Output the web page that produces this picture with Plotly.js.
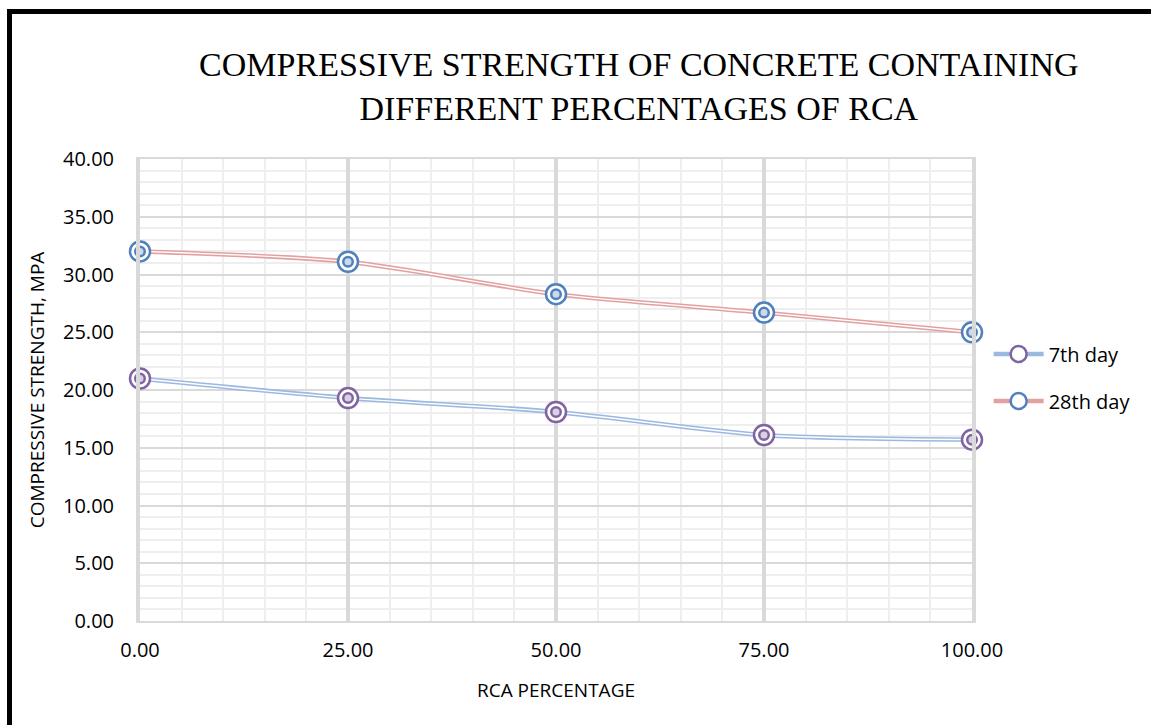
<!DOCTYPE html>
<html>
<head>
<meta charset="utf-8">
<script src="https://cdn.plot.ly/plotly-3.0.1.min.js"></script>
<style>
  html, body { margin: 0; padding: 0; background: #fff; }
  #wrap { position: relative; width: 1151px; height: 725px; overflow: hidden; }
  #chart { position: absolute; left: 0; top: 0; width: 1151px; height: 725px; }
  #frame { position: absolute; left: 7px; top: 9px; width: 1160px; height: 740px;
           border-left: 5px solid #000; border-top: 5px solid #000; pointer-events: none; }
</style>
</head>
<body>
<div id="wrap">
  <div id="chart"></div>
  <div id="frame"></div>
</div>
<script>
// ---- data ----
const rcaPercent = [0, 25, 50, 75, 100];
const day7 = [21.0, 19.3, 18.1, 16.1, 15.7];
const day28 = [32.0, 31.1, 28.3, 26.7, 25.0];
const seriesNames = ['7th day', '28th day'];
const yTickVals = [0, 5, 10, 15, 20, 25, 30, 35, 40];
const xTickVals = [0, 25, 50, 75, 100];

const lineColors = ['#9ab8e0', '#e3a0a0'];
const markerColors = ['#8064a2', '#4f81bd'];
const innerFill = ['#d9d0e4', '#cdd9ea'];
const font = '"Open Sans", Lato, sans-serif';

function seriesTraces(y, i) {
  const g = 'g' + i;
  return [
    { // wide coloured line (legend entry)
      x: rcaPercent, y: y, name: seriesNames[i], legendgroup: g, showlegend: true,
      mode: 'lines+markers', type: 'scatter', cliponaxis: false,
      line: { color: lineColors[i], width: 4.5, shape: 'spline', smoothing: 0.8 },
      marker: { symbol: 'circle', size: 18, color: '#fff', line: { color: markerColors[i], width: 2.5 } },
      hoverinfo: 'skip'
    },
    { // white centre to make a double line
      x: rcaPercent, y: y, legendgroup: g, showlegend: false,
      mode: 'lines', type: 'scatter', cliponaxis: false,
      line: { color: '#ffffff', width: 1.4, shape: 'spline', smoothing: 0.8 },
      hoverinfo: 'skip'
    },
    { // outer ring
      x: rcaPercent, y: y, legendgroup: g, showlegend: false,
      mode: 'markers', type: 'scatter', cliponaxis: false,
      marker: { symbol: 'circle', size: 20, color: '#fff', line: { color: markerColors[i], width: 2.5 } },
      hoverinfo: 'skip'
    },
    { // inner ring
      x: rcaPercent, y: y, legendgroup: g, showlegend: false,
      mode: 'markers', type: 'scatter', cliponaxis: false,
      marker: { symbol: 'circle', size: 9.5, color: innerFill[i], line: { color: markerColors[i], width: 2.5 } },
      hoverinfo: 'skip'
    }
  ];
}

const traces = [].concat(seriesTraces(day7, 0), seriesTraces(day28, 1));
// draw all lines first, then the markers on top
const order = [0, 1, 4, 5, 2, 3, 6, 7];
const data = order.map(k => traces[k]);

const layout = {
  width: 1151, height: 725,
  paper_bgcolor: '#fff', plot_bgcolor: '#fff',
  margin: { l: 140, r: 179, t: 159, b: 104 },
  font: { family: font, color: '#000', size: 20 },
  title: {
    text: 'COMPRESSIVE STRENGTH OF CONCRETE CONTAINING<br>DIFFERENT PERCENTAGES OF RCA',
    font: { family: '"Liberation Serif", "DejaVu Serif", serif', size: 34, color: '#000' },
    x: 0.555, xanchor: 'center', xref: 'container',
    y: 0.895, yanchor: 'middle', yref: 'container'
  },
  xaxis: {
    range: [0, 100], tickvals: xTickVals, tickformat: '.2f',
    showgrid: true, gridcolor: '#d9d9d9', gridwidth: 4,
    minor: { dtick: 5, showgrid: true, gridcolor: '#eeeeee', gridwidth: 2 },
    zeroline: false, showline: true, linecolor: '#d9d9d9', linewidth: 2, mirror: true,
    ticks: '', ticklabelstandoff: 10,
    tickfont: { family: font, size: 20 },
    title: { text: 'RCA PERCENTAGE', font: { family: font, size: 19 }, standoff: 22 },
    fixedrange: true
  },
  yaxis: {
    range: [0, 40], tickvals: yTickVals, tickformat: '.2f',
    showgrid: true, gridcolor: '#d9d9d9', gridwidth: 2,
    minor: { dtick: 1, showgrid: true, gridcolor: '#eeeeee', gridwidth: 2 },
    zeroline: false, showline: true, linecolor: '#d9d9d9', linewidth: 4, mirror: true,
    ticks: '', ticklabelstandoff: 18,
    tickfont: { family: font, size: 20 },
    title: { text: 'COMPRESSIVE STRENGTH, MPA', font: { family: font, size: 19 }, standoff: 14 },
    fixedrange: true
  },
  showlegend: true,
  legend: {
    x: 1.02, xanchor: 'left', y: 0.62, yanchor: 'top',
    font: { family: font, size: 20 }, traceorder: 'grouped', tracegroupgap: 18,
    itemwidth: 50, bgcolor: 'rgba(0,0,0,0)'
  },
  hovermode: false
};

Plotly.newPlot('chart', data, layout, { displayModeBar: false, staticPlot: true });
</script>
</body>
</html>
